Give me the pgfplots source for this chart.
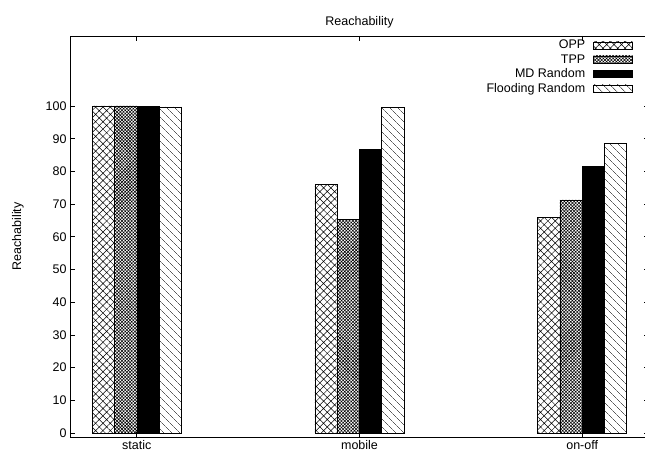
\documentclass[border=0pt]{standalone}
\usepackage{pgfplots}
\pgfplotsset{compat=1.18}
\usepackage{fontspec}
\setmainfont{Liberation Sans}
\usetikzlibrary{patterns.meta}

\begin{document}
\begin{tikzpicture}
\useasboundingbox (0pt,0pt) rectangle (645pt,460pt);
\begin{axis}[
  at={(70pt,23pt)}, anchor=south west,
  scale only axis, width=579pt, height=401pt,
  xmin=-0.3, xmax=2.3, ymin=-1.2, ymax=121.4,
  xtick={0,1,2}, xticklabels={static,mobile,on-off},
  ytick={0,10,...,100},
  tick align=inside, major tick length=5pt,
  /pgf/number format/assume math mode=true,
  font=\fontsize{12.5}{14.5}\selectfont,
  title={Reachability},
  title style={yshift=-2pt},
  ylabel={Reachability},
  every axis y label/.style={at={(rel axis cs:0,0.5)}, xshift=-52pt, rotate=90, anchor=center},
  axis line style={line width=0.8pt},
  every tick/.style={line width=0.8pt, black},
  legend plot pos=right,
  legend cell align=right,
  legend style={at={(1,1)}, anchor=north east, xshift=-13pt, yshift=-1pt,
    draw=none, fill=none, row sep=2pt, column sep=7pt, nodes={inner sep=1pt},
    font=\fontsize{12.5}{14.5}\selectfont},
  legend image code/.code={\draw[#1] (0pt,-3.5pt) rectangle (39pt,3.5pt);},
]
\addplot[ybar, bar width=22.27pt, bar shift=-33.4pt, draw=black, line width=0.6pt,
  pattern={Hatch[angle=45,distance=5.2pt,line width=0.5pt]}]
  coordinates {(0,100) (1,76) (2,66)};
\addlegendentry{OPP}
\addplot[ybar, bar width=22.27pt, bar shift=-11.13pt, draw=black, line width=0.6pt,
  pattern={Hatch[angle=45,distance=2.3pt,line width=0.55pt]}]
  coordinates {(0,100) (1,65.3) (2,71.3)};
\addlegendentry{TPP}
\addplot[ybar, bar width=22.27pt, bar shift=11.13pt, draw=black, line width=0.6pt, fill=black]
  coordinates {(0,99.8) (1,86.8) (2,81.5)};
\addlegendentry{MD Random}
\addplot[ybar, bar width=22.27pt, bar shift=33.4pt, draw=black, line width=0.6pt,
  pattern={Lines[angle=-45,distance=5.4pt,line width=0.5pt]}]
  coordinates {(0,99.7) (1,99.6) (2,88.6)};
\addlegendentry{Flooding Random}
\end{axis}
\end{tikzpicture}
\end{document}
